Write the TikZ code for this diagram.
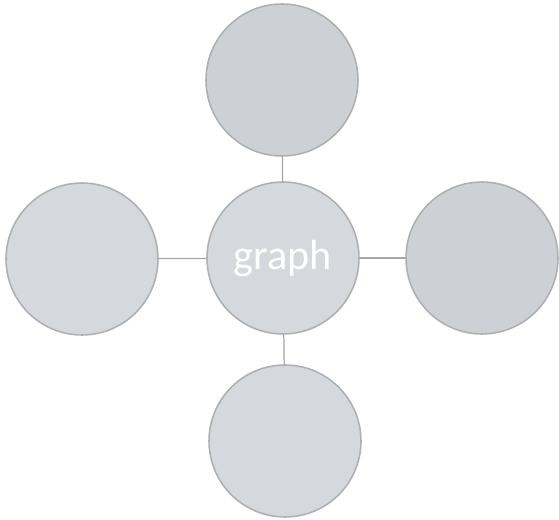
\documentclass[tikz,border=0pt]{standalone}
\usepackage{fontspec}
\setmainfont{Carlito}
\usepackage{xcolor}
\definecolor{ringgray}{HTML}{AEB0B3}
\definecolor{fillgray}{HTML}{D5D8DC}
\definecolor{filldark}{HTML}{CDD0D4}
\definecolor{linkgray}{HTML}{A3A5A8}
\usetikzlibrary{positioning}

\begin{document}
\begin{tikzpicture}[x=0.02cm, y=-0.02cm,
    bubble/.style={circle, draw=ringgray, line width=0.9pt, fill=fillgray, minimum size=3.04cm, inner sep=0pt},
    link/.style={draw=linkgray, line width=0.7pt}]
  \useasboundingbox (0,0) rectangle (559,520);

  % Centre
  \node[bubble] (hub) at (283, 258) {\fontsize{24}{28}\selectfont\color{white} graph};

  % Satellites
  \node[bubble, fill=filldark] (top) at (282, 80) {};
  \node[bubble] (left) at (82, 259) {};
  \node[bubble, fill=filldark] (right) at (482, 258) {};
  \node[bubble] (bottom) at (285, 441) {};

  % Connexions
  \draw[link] (hub) -- (top);
  \draw[link] (hub) -- (left);
  \draw[link] (hub) -- (right);
  \draw[link] (hub) -- (bottom);
\end{tikzpicture}
\end{document}
